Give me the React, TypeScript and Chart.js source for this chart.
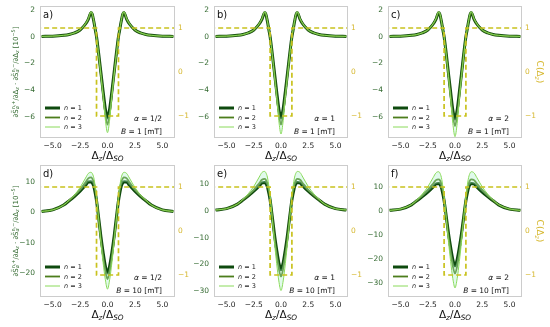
import React, { useEffect, useRef } from "react";
import { Chart, registerables } from "chart.js";
Chart.register(...registerables);

// ---------- data ----------
const X = [-6, -5, -4, -3.5, -3, -2.5, -2, -1.75, -1.5, -1.4, -1.25, -1.1, -1, -0.8, -0.6, -0.4, -0.2, 0, 0.2, 0.4, 0.6, 0.8, 1, 1.1, 1.25, 1.4, 1.5, 1.75, 2, 2.5, 3, 3.5, 4, 5, 6];

const A_N1 = [0.02, 0.04, 0.1, 0.16, 0.28, 0.5, 0.95, 1.3, 1.8, 1.7, 1.15, 0.45, 0.0, -1.3, -2.7, -4.1, -5.4, -6.1, -5.4, -4.1, -2.7, -1.3, 0.0, 0.45, 1.15, 1.7, 1.8, 1.3, 0.95, 0.5, 0.28, 0.16, 0.1, 0.04, 0.02];
const A_N2 = [0.02, 0.04, 0.1, 0.16, 0.28, 0.5, 0.96, 1.32, 1.83, 1.73, 1.17, 0.45, 0.0, -1.35, -2.8, -4.3, -5.8, -6.6, -5.8, -4.3, -2.8, -1.35, 0.0, 0.45, 1.17, 1.73, 1.83, 1.32, 0.96, 0.5, 0.28, 0.16, 0.1, 0.04, 0.02];
const A_N3 = [0.02, 0.04, 0.1, 0.16, 0.29, 0.51, 0.98, 1.35, 1.87, 1.77, 1.2, 0.45, 0.0, -1.4, -2.9, -4.5, -6.2, -7.2, -6.2, -4.5, -2.9, -1.4, 0.0, 0.45, 1.2, 1.77, 1.87, 1.35, 0.98, 0.51, 0.29, 0.16, 0.1, 0.04, 0.02];

const B_N1 = [0.02, 0.04, 0.1, 0.16, 0.28, 0.5, 0.95, 1.3, 1.8, 1.7, 1.15, 0.45, 0.0, -1.3, -2.7, -4.1, -5.4, -6.1, -5.4, -4.1, -2.7, -1.3, 0.0, 0.45, 1.15, 1.7, 1.8, 1.3, 0.95, 0.5, 0.28, 0.16, 0.1, 0.04, 0.02];
const B_N2 = [0.02, 0.04, 0.1, 0.16, 0.28, 0.5, 0.96, 1.32, 1.83, 1.73, 1.17, 0.45, 0.0, -1.35, -2.8, -4.3, -5.8, -6.6, -5.8, -4.3, -2.8, -1.35, 0.0, 0.45, 1.17, 1.73, 1.83, 1.32, 0.96, 0.5, 0.28, 0.16, 0.1, 0.04, 0.02];
const B_N3 = [0.02, 0.04, 0.1, 0.16, 0.29, 0.51, 0.98, 1.35, 1.87, 1.77, 1.2, 0.45, 0.0, -1.4, -2.95, -4.55, -6.3, -7.3, -6.3, -4.55, -2.95, -1.4, 0.0, 0.45, 1.2, 1.77, 1.87, 1.35, 0.98, 0.51, 0.29, 0.16, 0.1, 0.04, 0.02];

const C_N1 = [0.02, 0.04, 0.1, 0.16, 0.28, 0.5, 0.95, 1.3, 1.8, 1.7, 1.15, 0.45, 0.0, -1.3, -2.75, -4.15, -5.5, -6.2, -5.5, -4.15, -2.75, -1.3, 0.0, 0.45, 1.15, 1.7, 1.8, 1.3, 0.95, 0.5, 0.28, 0.16, 0.1, 0.04, 0.02];
const C_N2 = [0.02, 0.04, 0.1, 0.16, 0.28, 0.5, 0.96, 1.32, 1.83, 1.73, 1.17, 0.45, 0.0, -1.35, -2.85, -4.4, -5.9, -6.7, -5.9, -4.4, -2.85, -1.35, 0.0, 0.45, 1.17, 1.73, 1.83, 1.32, 0.96, 0.5, 0.28, 0.16, 0.1, 0.04, 0.02];
const C_N3 = [0.02, 0.04, 0.1, 0.16, 0.29, 0.51, 0.98, 1.35, 1.87, 1.77, 1.2, 0.45, 0.0, -1.45, -3.0, -4.7, -6.5, -7.5, -6.5, -4.7, -3.0, -1.45, 0.0, 0.45, 1.2, 1.77, 1.87, 1.35, 0.98, 0.51, 0.29, 0.16, 0.1, 0.04, 0.02];

const D_N1 = [0.3, 0.8, 2.4, 3.8, 5.3, 7.0, 8.9, 10.0, 10.1, 9.8, 8.6, 6.0, 3.8, -2.0, -8.0, -13.2, -17.6, -20, -17.6, -13.2, -8.0, -2.0, 3.8, 6.0, 8.6, 9.8, 10.1, 10.0, 8.9, 7.0, 5.3, 3.8, 2.4, 0.8, 0.3];
const D_N2 = [0.3, 0.8, 2.4, 3.9, 5.5, 7.5, 9.9, 11.2, 11.5, 11.2, 9.9, 7.0, 4.5, -2.2, -8.8, -14.5, -19.3, -22, -19.3, -14.5, -8.8, -2.2, 4.5, 7.0, 9.9, 11.2, 11.5, 11.2, 9.9, 7.5, 5.5, 3.9, 2.4, 0.8, 0.3];
const D_N3 = [0.3, 0.8, 2.4, 4.0, 5.8, 8.2, 11.3, 12.8, 13.2, 12.9, 11.4, 8.1, 5.2, -2.5, -10.0, -16.6, -22.1, -25.3, -22.1, -16.6, -10.0, -2.5, 5.2, 8.1, 11.4, 12.9, 13.2, 12.8, 11.3, 8.2, 5.8, 4.0, 2.4, 0.8, 0.3];

const E_N1 = [0.3, 0.8, 2.5, 4.0, 5.6, 7.3, 9.3, 10.4, 10.6, 10.3, 9.0, 6.3, 4.0, -2.2, -8.8, -14.5, -19.4, -22, -19.4, -14.5, -8.8, -2.2, 4.0, 6.3, 9.0, 10.3, 10.6, 10.4, 9.3, 7.3, 5.6, 4.0, 2.5, 0.8, 0.3];
const E_N2 = [0.3, 0.8, 2.5, 4.1, 5.8, 7.8, 10.3, 11.6, 11.9, 11.6, 10.2, 7.2, 4.6, -2.4, -9.8, -16.2, -21.6, -24.6, -21.6, -16.2, -9.8, -2.4, 4.6, 7.2, 10.2, 11.6, 11.9, 11.6, 10.3, 7.8, 5.8, 4.1, 2.5, 0.8, 0.3];
const E_N3 = [0.3, 0.8, 2.5, 4.3, 6.4, 9.1, 12.6, 14.3, 14.7, 14.3, 12.6, 8.9, 5.7, -2.9, -11.8, -19.6, -26.2, -29.8, -26.2, -19.6, -11.8, -2.9, 5.7, 8.9, 12.6, 14.3, 14.7, 14.3, 12.6, 9.1, 6.4, 4.3, 2.5, 0.8, 0.3];

const F_N1 = [0.3, 0.8, 2.6, 4.3, 6.0, 7.9, 10.1, 11.3, 11.5, 11.2, 9.8, 6.8, 4.3, -2.3, -9.2, -15.1, -20.2, -22.9, -20.2, -15.1, -9.2, -2.3, 4.3, 6.8, 9.8, 11.2, 11.5, 11.3, 10.1, 7.9, 6.0, 4.3, 2.6, 0.8, 0.3];
const F_N2 = [0.3, 0.8, 2.6, 4.4, 6.4, 8.8, 11.5, 12.9, 13.2, 12.9, 11.3, 7.9, 5.0, -2.6, -10.4, -17.1, -22.9, -26, -22.9, -17.1, -10.4, -2.6, 5.0, 7.9, 11.3, 12.9, 13.2, 12.9, 11.5, 8.8, 6.4, 4.4, 2.6, 0.8, 0.3];
const F_N3 = [0.3, 0.9, 2.7, 4.7, 7.1, 10.1, 14.0, 15.9, 16.4, 16.0, 14.0, 9.8, 6.2, -3.1, -12.7, -21.0, -28.1, -32, -28.1, -21.0, -12.7, -3.1, 6.2, 9.8, 14.0, 16.0, 16.4, 15.9, 14.0, 10.1, 7.1, 4.7, 2.7, 0.9, 0.3];

const C_X = [-6.5, -1, -1, 1, 1, 6.5];
const C_VALUES = [1, 1, -1, -1, 1, 1];

const X_TICKS = [-5, -2.5, 0, 2.5, 5];
const C_TICKS = [-1, 0, 1];
const TOP_TICKS = [-6, -4, -2, 0, 2];
const D_TICKS = [-20, -10, 0, 10];
const EF_TICKS = [-30, -20, -10, 0, 10];

const LEGEND_LABELS = ["1", "2", "3"];

// ---------- style ----------
const FAMILY = "'DejaVu Sans', sans-serif";
const COL_N1 = "#0e4a0e";
const COL_N2 = "#4c7d1c";
const COL_N3 = "#8ada5a";
const COL_BAND = "rgba(170, 240, 200, 0.35)";
const COL_DASH = "#c9c21e";
const COL_LEFT = "#356b32";
const COL_RIGHT = "#d6b830";
const COL_FRAME = "#cccccc";
const WIDTHS = [3, 1.8, 1];
const COLORS = [COL_N1, COL_N2, COL_N3];

const COLS = [40, 214, 388];
const COL_W = [135, 134, 134];
const ROWS = [6, 165];
const PLOT_H = 132;
const AX_L = 40, AX_R = 30, AX_B = 30, PAD_T = 12;

type Seg = { t: string; k?: "n" | "sub" | "sup"; it?: boolean } | { stack: [string, string]; it?: boolean };

function font(size: number, italic?: boolean) {
  return `${italic ? "italic " : ""}${size}px ${FAMILY}`;
}

function drawRich(ctx: CanvasRenderingContext2D, segs: Seg[], x: number, base: number, size: number, color: string, align: "left" | "center" | "right") {
  const small = size * 0.7;
  const items: any[] = [];
  let w = 0;
  for (const s of segs) {
    if ("stack" in s) {
      ctx.font = font(small, s.it);
      const w1 = ctx.measureText(s.stack[0]).width;
      const w2 = ctx.measureText(s.stack[1]).width;
      items.push({ s, w: Math.max(w1, w2) });
      w += Math.max(w1, w2);
    } else {
      const sz = !s.k || s.k === "n" ? size : small;
      ctx.font = font(sz, s.it);
      const ww = ctx.measureText(s.t).width;
      items.push({ s, w: ww, sz });
      w += ww;
    }
  }
  let cx = align === "left" ? x : align === "center" ? x - w / 2 : x - w;
  ctx.fillStyle = color;
  ctx.textBaseline = "alphabetic";
  ctx.textAlign = "left";
  for (const it of items) {
    const s = it.s;
    if ("stack" in s) {
      ctx.font = font(small, s.it);
      ctx.fillText(s.stack[0], cx, base + size * 0.25);
      ctx.font = font(small, false);
      ctx.fillText(s.stack[1], cx, base - size * 0.42);
    } else {
      ctx.font = font(it.sz, s.it);
      const dy = s.k === "sub" ? size * 0.22 : s.k === "sup" ? -size * 0.38 : 0;
      ctx.fillText(s.t, cx, base + dy);
    }
    cx += it.w;
  }
}

type Panel = {
  id: string; col: number; row: number; yMin: number; yMax: number; yTicks: number[];
  n1: number[]; n2: number[]; n3: number[]; alpha: string; field: string;
  leftTitle: boolean; rightTitle: boolean;
};

const PANELS: Panel[] = [
  { id: "a", col: 0, row: 0, yMin: -7.6, yMax: 2.3, yTicks: TOP_TICKS, n1: A_N1, n2: A_N2, n3: A_N3, alpha: "1/2", field: "1", leftTitle: true, rightTitle: false },
  { id: "b", col: 1, row: 0, yMin: -7.6, yMax: 2.3, yTicks: TOP_TICKS, n1: B_N1, n2: B_N2, n3: B_N3, alpha: "1", field: "1", leftTitle: false, rightTitle: false },
  { id: "c", col: 2, row: 0, yMin: -7.6, yMax: 2.3, yTicks: TOP_TICKS, n1: C_N1, n2: C_N2, n3: C_N3, alpha: "2", field: "1", leftTitle: false, rightTitle: true },
  { id: "d", col: 0, row: 1, yMin: -27.9, yMax: 15.6, yTicks: D_TICKS, n1: D_N1, n2: D_N2, n3: D_N3, alpha: "1/2", field: "10", leftTitle: true, rightTitle: false },
  { id: "e", col: 1, row: 1, yMin: -32.2, yMax: 17.1, yTicks: EF_TICKS, n1: E_N1, n2: E_N2, n3: E_N3, alpha: "1", field: "10", leftTitle: false, rightTitle: false },
  { id: "f", col: 2, row: 1, yMin: -35.8, yMax: 19.2, yTicks: EF_TICKS, n1: F_N1, n2: F_N2, n3: F_N3, alpha: "2", field: "10", leftTitle: false, rightTitle: true },
];

const minus = (s: string) => s.replace("-", "\u2212");

function PanelChart({ p }: { p: Panel }) {
  const ref = useRef<HTMLCanvasElement>(null);
  const plotL = COLS[p.col];
  const plotT = ROWS[p.row];
  const plotW = COL_W[p.col];
  const cL = plotL - AX_L;
  const cT = plotT - PAD_T;
  const cW = plotW + AX_L + AX_R;
  const cH = PLOT_H + PAD_T + AX_B;

  useEffect(() => {
    if (!ref.current) return;
    const pts = (v: number[]) => X.map((x, i) => ({ x, y: v[i] }));
    const overlay = {
      id: "overlay",
      afterDatasetsDraw(chart: any) {
        const ctx: CanvasRenderingContext2D = chart.ctx;
        const ca = chart.chartArea;
        ctx.save();
        ctx.strokeStyle = COL_FRAME;
        ctx.lineWidth = 1;
        ctx.strokeRect(Math.round(ca.left) + 0.5, Math.round(ca.top) + 0.5, Math.round(ca.right - ca.left) - 1, Math.round(ca.bottom - ca.top) - 1);
        ctx.fillStyle = "#111";
        ctx.font = font(10);
        ctx.textAlign = "left";
        ctx.textBaseline = "alphabetic";
        ctx.fillText(p.id + ")", ca.left + 3, ca.top + 12);
        const rows = [30, 20.5, 11];
        for (let i = 0; i < 3; i++) {
          const y = ca.bottom - rows[i];
          ctx.strokeStyle = COLORS[i];
          ctx.lineWidth = WIDTHS[i];
          ctx.setLineDash([]);
          ctx.beginPath();
          ctx.moveTo(ca.left + 5, y);
          ctx.lineTo(ca.left + 20, y);
          ctx.stroke();
          drawRich(ctx, [{ t: "n", it: true }, { t: " = " + LEGEND_LABELS[i] }], ca.left + 24, y + 2.3, 6.5, "#222", "left");
        }
        drawRich(ctx, [{ t: "\u03b1", it: true }, { t: " = " + p.alpha }], ca.right - 13, ca.bottom - 17.5, 7.5, "#111", "right");
        drawRich(ctx, [{ t: "B", it: true }, { t: " = " + p.field + " [mT]" }], ca.right - 13, ca.bottom - 4.5, 7.5, "#111", "right");
        drawRich(ctx, [{ t: "\u0394" }, { t: "z", k: "sub", it: true }, { t: "/\u0394" }, { t: "SO", k: "sub", it: true }], (ca.left + ca.right) / 2, ca.bottom + 21, 10.5, "#111", "center");
        const cy = (ca.top + ca.bottom) / 2;
        if (p.leftTitle) {
          ctx.save();
          ctx.translate(15 - cL, cy);
          ctx.rotate(-Math.PI / 2);
          drawRich(ctx, [
            { t: "\u2202S\u0303" }, { stack: ["\u03b1", "n,+"], it: true }, { t: "/\u2202\u0394" }, { t: "z", k: "sub", it: true },
            { t: " \u00b7 \u2202S\u0303" }, { stack: ["\u03b1", "n,\u2212"], it: true }, { t: "/\u2202\u0394" }, { t: "z", k: "sub", it: true },
            { t: " [10" }, { t: "\u22125", k: "sup" }, { t: "]" },
          ], 0, 2.5, 7, COL_LEFT, "center");
          ctx.restore();
        }
        if (p.rightTitle) {
          ctx.save();
          ctx.translate(540 - cL, cy);
          ctx.rotate(Math.PI / 2);
          drawRich(ctx, [{ t: "C(\u0394" }, { t: "z", k: "sub", it: true }, { t: ")" }], 0, 3, 9, COL_RIGHT, "center");
          ctx.restore();
        }
        ctx.restore();
      },
    };

    const line = (data: number[], i: number, fill: any = false) => ({
      label: "n = " + LEGEND_LABELS[i],
      data: pts(data),
      yAxisID: "y",
      borderColor: COLORS[i],
      backgroundColor: COL_BAND,
      borderWidth: WIDTHS[i],
      pointRadius: 0,
      cubicInterpolationMode: "monotone" as const,
      fill,
    });

    const chart = new Chart(ref.current, {
      type: "line",
      data: {
        datasets: [
          {
            label: "C",
            data: C_X.map((x, i) => ({ x, y: C_VALUES[i] })),
            yAxisID: "y2",
            borderColor: COL_DASH,
            borderWidth: 1.7,
            borderDash: [5, 3],
            pointRadius: 0,
            tension: 0,
            fill: false,
          },
          line(p.n3, 2, 3),
          line(p.n2, 1),
          line(p.n1, 0),
        ] as any,
      },
      options: {
        responsive: false,
        maintainAspectRatio: false,
        animation: false,
        devicePixelRatio: 1,
        layout: { padding: { top: PAD_T, left: 0, right: 0, bottom: 0 } },
        plugins: { legend: { display: false }, tooltip: { enabled: false }, filler: { propagate: false } },
        scales: {
          x: {
            type: "linear",
            min: -6.15,
            max: 6.15,
            grid: { display: false, drawTicks: false },
            border: { display: false },
            ticks: { font: { size: 7.5, family: FAMILY }, color: "#222", padding: 4, maxRotation: 0, callback: (v: any) => minus(Number(v).toFixed(1)) },
            afterBuildTicks: (s: any) => { s.ticks = X_TICKS.map((v) => ({ value: v })); },
            afterFit: (s: any) => { s.height = AX_B; },
          },
          y: {
            type: "linear",
            position: "left",
            min: p.yMin,
            max: p.yMax,
            grid: { display: false, drawTicks: false },
            border: { display: false },
            ticks: { font: { size: 7.5, family: FAMILY }, color: COL_LEFT, padding: 5, callback: (v: any) => minus(String(v)) },
            afterBuildTicks: (s: any) => { s.ticks = p.yTicks.map((v) => ({ value: v })); },
            afterFit: (s: any) => { s.width = AX_L; },
          },
          y2: {
            type: "linear",
            position: "right",
            min: -1.5,
            max: 1.5,
            grid: { display: false, drawTicks: false },
            border: { display: false },
            ticks: { font: { size: 7.5, family: FAMILY }, color: COL_RIGHT, padding: 3, callback: (v: any) => minus(String(v)) },
            afterBuildTicks: (s: any) => { s.ticks = C_TICKS.map((v) => ({ value: v })); },
            afterFit: (s: any) => { s.width = AX_R; },
          },
        },
      } as any,
      plugins: [overlay],
    });
    return () => chart.destroy();
  }, []);

  return <canvas ref={ref} width={cW} height={cH} style={{ position: "absolute", left: cL, top: cT, width: cW, height: cH }} />;
}

export default function App() {
  return (
    <div style={{ position: "fixed", left: 0, top: 0, width: 550, height: 327, background: "#fff", overflow: "hidden" }}>
      {PANELS.map((p) => (
        <PanelChart key={p.id} p={p} />
      ))}
    </div>
  );
}
